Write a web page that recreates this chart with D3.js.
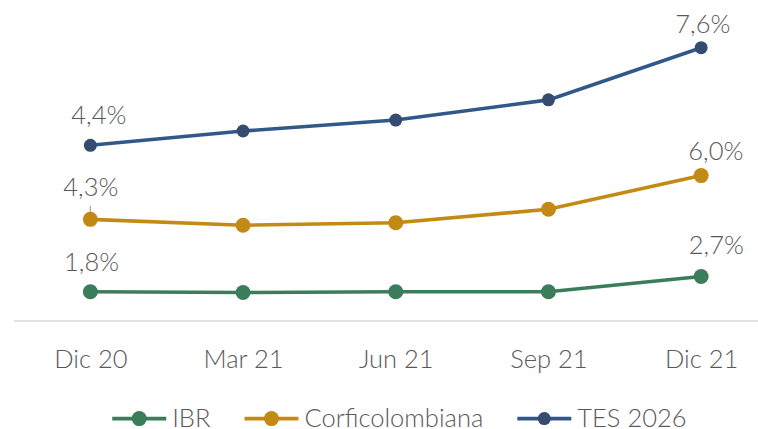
<!DOCTYPE html>
<html>
<head>
<meta charset="utf-8">
<script src="https://cdn.jsdelivr.net/npm/d3@7"></script>
<style>
  body { margin: 0; background: #fff; }
  svg { display: block; }
  text { font-family: Lato, "Open Sans", sans-serif; font-weight: 300; fill: #595959; }
</style>
</head>
<body>
<svg id="chart"></svg>
<script>
// datos (líneas apiladas, las etiquetas muestran el valor propio de cada serie)
const categories = ["Dic 20", "Mar 21", "Jun 21", "Sep 21", "Dic 21"];
const seriesNames = ["IBR", "Corficolombiana", "TES 2026"];
const ibr   = [1.8, 1.75, 1.8, 1.8, 2.7];
const corfi = [4.3, 4.0, 4.1, 4.9, 6.0];
const tes   = [4.4, 5.6, 6.1, 6.5, 7.6];

// estilo
const colors  = { "IBR": "#3b7d5b", "Corficolombiana": "#c48b14", "TES 2026": "#30598a" };
const markers = { "IBR": "#3b7d5b", "Corficolombiana": "#c28a14", "TES 2026": "#354b70" };
const radius  = { "IBR": 7.5, "Corficolombiana": 7.5, "TES 2026": 6.5 };

// posición manual de las etiquetas (como en Excel), [dx, dy] respecto al punto
const labelNudge = {
  "IBR":             [[1.2, -20.7], [15.2, -22.7]],
  "Corficolombiana": [[0.5, -23.3], [14.7, -15.7]],
  "TES 2026":        [[8.5, -21.7], [1.7, -15]]
};

var size = { width: 758, height: 429 };

var table = categories.map(function(c, i){
  return { cat: c, "IBR": ibr[i], "Corficolombiana": corfi[i], "TES 2026": tes[i] };
});

var stacked = d3.stack().keys(seriesNames)(table);

var x = d3.scalePoint()
  .domain(categories)
  .range([14, 777.5])
  .padding(0.5);

var y = d3.scaleLinear()
  .domain([0, 18])
  .range([322, 19.1]);

var fmt = d3.formatLocale({ decimal: ",", thousands: ".", grouping: [3], currency: ["$", ""] }).format(".1f");

var svg = d3.select("#chart")
  .attr("width", size.width)
  .attr("height", size.height);

// eje horizontal
var xAxis = svg.append("g")
  .attr("transform", "translate(0,321)")
  .call(d3.axisBottom(x).tickSize(0).tickPadding(29));
xAxis.attr("font-family", null).attr("font-size", null);
xAxis.select(".domain").attr("d", "M14,0H758").attr("stroke", "#d9d9d9").attr("stroke-width", 1.5);
xAxis.selectAll(".tick text")
  .attr("font-size", 25.5)
  .attr("fill", "#595959")
  .attr("dy", 0)
  .attr("y", 46.5);

var line = d3.line()
  .x(function(d){ return x(d.data.cat); })
  .y(function(d){ return y(d[1]); });

var series = svg.selectAll(".serie")
  .data(stacked)
  .enter().append("g")
  .attr("class", "serie");

series.append("path")
  .attr("d", line)
  .attr("fill", "none")
  .attr("stroke", function(d){ return colors[d.key]; })
  .attr("stroke-width", 3.6);

series.selectAll("circle")
  .data(function(d){ return d.map(function(p){ p.key = d.key; return p; }); })
  .enter().append("circle")
  .attr("cx", function(d){ return x(d.data.cat); })
  .attr("cy", function(d){ return y(d[1]); })
  .attr("r", function(d){ return radius[d.key]; })
  .attr("fill", function(d){ return markers[d.key]; });

// etiquetas en el primer y último punto
series.each(function(s){
  var g = d3.select(this);
  [0, s.length - 1].forEach(function(idx, j){
    var p = s[idx];
    var nudge = labelNudge[s.key][j];
    var px = x(p.data.cat), py = y(p[1]);
    g.append("text")
      .attr("x", px + nudge[0])
      .attr("y", py + nudge[1])
      .attr("text-anchor", "middle")
      .attr("font-size", 25.5)
      .text(fmt(p.data[s.key]) + "%");
    if (s.key === "Corficolombiana" && idx === 0) {
      // línea guía de la etiqueta
      g.append("line")
        .attr("x1", px).attr("x2", px)
        .attr("y1", py + nudge[1] + 10).attr("y2", py - 2)
        .attr("stroke", "#a6a6a6").attr("stroke-width", 1.2);
    }
  });
});
// subir los puntos por encima de la guía
svg.selectAll(".serie circle").raise();

// leyenda
var legend = svg.append("g").attr("class", "legend");
var lx = 0;
seriesNames.forEach(function(name){
  var item = legend.append("g").attr("transform", "translate(" + lx + ",0)");
  item.append("line")
    .attr("x1", 0).attr("x2", 54)
    .attr("y1", 418.6).attr("y2", 418.6)
    .attr("stroke", colors[name]).attr("stroke-width", 3.6);
  item.append("circle")
    .attr("cx", 27).attr("cy", 418.6)
    .attr("r", radius[name])
    .attr("fill", markers[name]);
  var t = item.append("text")
    .attr("x", 60).attr("y", 427)
    .attr("font-size", 25.5)
    .text(name);
  lx += 60 + t.node().getComputedTextLength() + 34;
});
var legendW = lx - 34;
legend.attr("transform", "translate(" + (399.4 - legendW / 2) + ",0)");
</script>
</body>
</html>
